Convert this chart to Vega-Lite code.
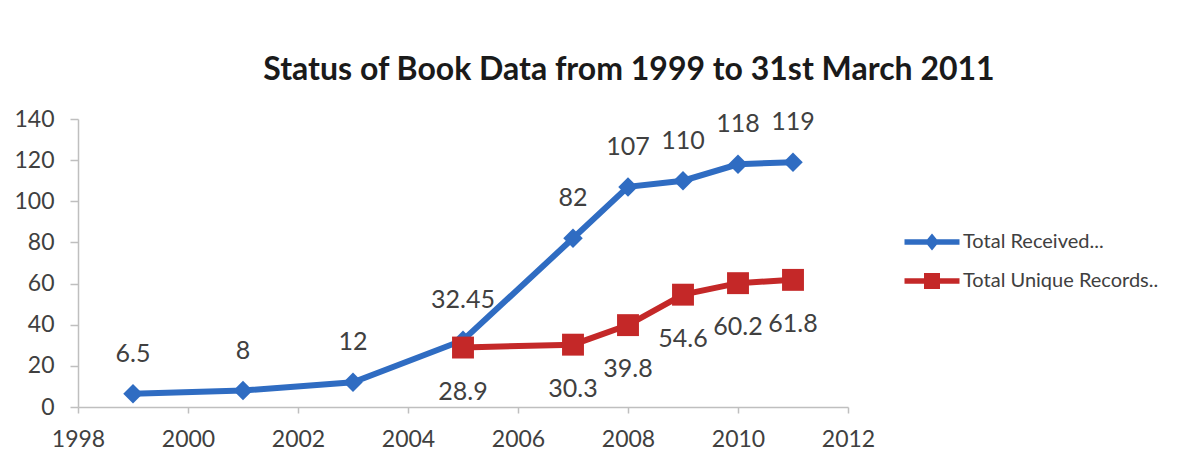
{
  "$schema": "https://vega.github.io/schema/vega-lite/v6.json",
  "width": 770,
  "height": 288,
  "autosize": {"type": "none"},
  "padding": {"left": 78, "top": 119, "right": 347, "bottom": 51},
  "background": "white",
  "title": {
    "text": "Status of Book Data from 1999 to 31st March 2011",
    "font": "Lato",
    "fontSize": 32,
    "fontWeight": "bold",
    "color": "#1a1a1a",
    "anchor": "middle",
    "frame": "group",
    "dx": 166,
    "offset": 21
  },
  "config": {
    "view": {"stroke": null},
    "font": "Lato",
    "axis": {
      "grid": false,
      "domainColor": "#bfbfbf",
      "domainWidth": 1.5,
      "tickColor": "#bfbfbf",
      "tickWidth": 1.5,
      "labelFont": "Lato",
      "labelFontSize": 23,
      "labelColor": "#404040",
      "title": null
    }
  },
  "data": {
    "values": [
      {"year": 1999, "value": 6.5, "series": "Total Received..."},
      {"year": 2001, "value": 8, "series": "Total Received..."},
      {"year": 2003, "value": 12, "series": "Total Received..."},
      {"year": 2005, "value": 32.45, "series": "Total Received..."},
      {"year": 2007, "value": 82, "series": "Total Received..."},
      {"year": 2008, "value": 107, "series": "Total Received..."},
      {"year": 2009, "value": 110, "series": "Total Received..."},
      {"year": 2010, "value": 118, "series": "Total Received..."},
      {"year": 2011, "value": 119, "series": "Total Received..."},
      {"year": 2005, "value": 28.9, "series": "Total Unique Records.."},
      {"year": 2007, "value": 30.3, "series": "Total Unique Records.."},
      {"year": 2008, "value": 39.8, "series": "Total Unique Records.."},
      {"year": 2009, "value": 54.6, "series": "Total Unique Records.."},
      {"year": 2010, "value": 60.2, "series": "Total Unique Records.."},
      {"year": 2011, "value": 61.8, "series": "Total Unique Records.."}
    ]
  },
  "encoding": {
    "x": {
      "field": "year",
      "type": "quantitative",
      "scale": {"domain": [1998, 2012], "nice": false, "zero": false},
      "axis": {"values": [1998, 2000, 2002, 2004, 2006, 2008, 2010, 2012], "format": "d", "tickSize": 6, "labelPadding": 15, "labelFlush": false}
    },
    "y": {
      "field": "value",
      "type": "quantitative",
      "scale": {"domain": [0, 140], "nice": false},
      "axis": {"values": [0, 20, 40, 60, 80, 100, 120, 140], "tickSize": 8, "labelPadding": 16, "labelFlush": false}
    }
  },
  "layer": [
    {
      "mark": {"type": "line", "strokeWidth": 6},
      "encoding": {
        "color": {
          "field": "series",
          "type": "nominal",
          "scale": {"domain": ["Total Received...", "Total Unique Records.."], "range": ["#2f6cc2", "#c42828"]},
          "legend": {
            "title": null,
            "orient": "none",
            "legendX": 844,
            "legendY": 113,
            "padding": 0,
            "symbolSize": 400,
            "symbolType": "M-2.75,-0.27L2.75,-0.27L2.75,0.27L-2.75,0.27Z M0,-0.85L0.7,0L0,0.85L-0.7,0Z",
            "labelOffset": 21,
            "labelLimit": 400,
            "rowPadding": 19,
            "labelFont": "Lato",
            "labelFontSize": 20,
            "labelColor": "#404040",
            "encode": {
              "symbols": {
                "update": {
                  "shape": {"signal": "datum.value === 'Total Received...' ? 'M-2.75,-0.27L2.75,-0.27L2.75,0.27L-2.75,0.27Z M0,-0.85L0.7,0L0,0.85L-0.7,0Z' : 'M-2.75,-0.27L2.75,-0.27L2.75,0.27L-2.75,0.27Z M-0.8,-0.8L0.8,-0.8L0.8,0.8L-0.8,0.8Z'"},
                  "fill": {"signal": "scale('color', datum.value)"},
                  "fillOpacity": {"value": 1},
                  "strokeWidth": {"value": 0}
                }
              }
            }
          }
        }
      }
    },
    {
      "transform": [{"filter": "datum.series === 'Total Received...'"}],
      "mark": {"type": "point", "filled": true, "opacity": 1, "shape": "diamond", "size": 380},
      "encoding": {
        "color": {"field": "series", "type": "nominal"}
      }
    },
    {
      "transform": [{"filter": "datum.series === 'Total Unique Records..'"}],
      "mark": {"type": "point", "filled": true, "opacity": 1, "shape": "square", "size": 480},
      "encoding": {
        "color": {"field": "series", "type": "nominal"}
      }
    },
    {
      "transform": [{"filter": "datum.series === 'Total Received...'"}],
      "mark": {"type": "text", "dy": -40, "font": "Lato", "fontSize": 25, "color": "#404040"},
      "encoding": {"text": {"field": "value", "type": "quantitative"}}
    },
    {
      "transform": [{"filter": "datum.series === 'Total Unique Records..'"}],
      "mark": {"type": "text", "dy": 44, "font": "Lato", "fontSize": 25, "color": "#404040"},
      "encoding": {"text": {"field": "value", "type": "quantitative"}}
    }
  ]
}
